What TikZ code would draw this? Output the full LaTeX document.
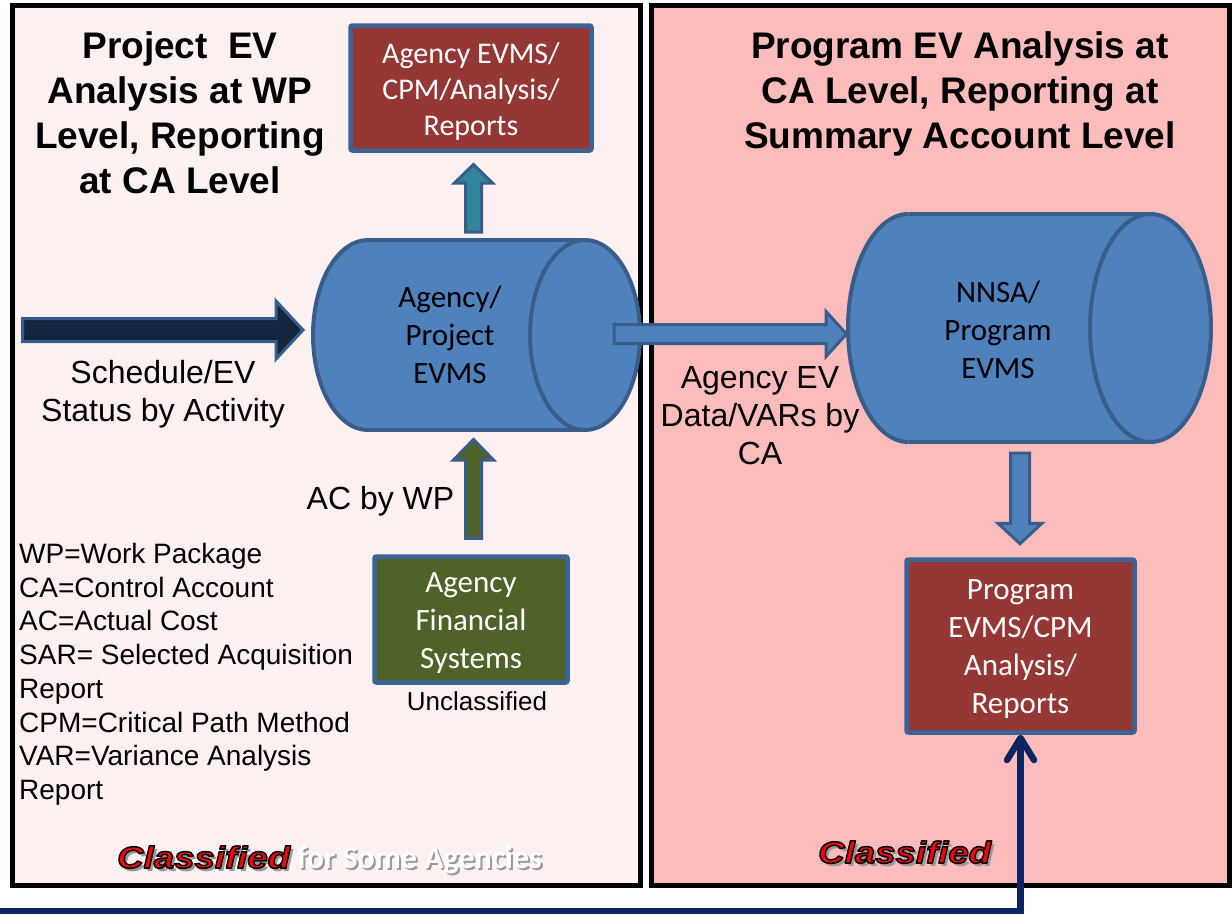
\documentclass[tikz,border=0pt]{standalone}
\usepackage{fontspec}
\setmainfont{Liberation Sans}
\newfontfamily\calfont{Carlito}
\newfontfamily\clsfont[FakeStretch=1.2]{Liberation Sans}
\usetikzlibrary{calc,arrows.meta}

\definecolor{panelL}{HTML}{FDF0F0}
\definecolor{panelR}{HTML}{FDBCBC}
\definecolor{cylfill}{HTML}{4F81BD}
\definecolor{cylline}{HTML}{385D8A}
\definecolor{boxline}{HTML}{3B6395}
\definecolor{redbox}{HTML}{953735}
\definecolor{greenbox}{HTML}{4F6228}
\definecolor{tealarr}{HTML}{31849B}
\definecolor{navyarr}{HTML}{13253F}
\definecolor{navyline}{HTML}{0D2463}
\definecolor{clsred}{HTML}{FF0000}

\tikzset{
  panel/.style={draw=black, line width=5pt},
  infobox/.style={draw=boxline, line width=4.5pt, rounded corners=2pt, inner sep=0pt},
  boxtxt/.style={text=white, font=\calfont\fontsize{31}{38}\selectfont, align=center, inner sep=0pt},
  cylstroke/.style={draw=cylline, line width=4pt},
  cyltext/.style={font=\calfont\fontsize{31}{38}\selectfont, align=center, inner sep=0pt, text=black},
  blk/.style={draw=cylline, line width=3pt, line join=miter},
  lbl/.style={font=\fontsize{32}{38}\selectfont, align=center, inner sep=0pt},
  ttl/.style={font=\bfseries\fontsize{37}{45}\selectfont, align=center, inner sep=0pt, anchor=north},
  legendtxt/.style={font=\fontsize{28}{33.7}\selectfont, align=left, inner sep=0pt, anchor=north west},
  clsbase/.style={font=\clsfont\bfseries\itshape\fontsize{30.5}{30.5}\selectfont, inner sep=0pt, anchor=base west},
  somebase/.style={font=\calfont\bfseries\fontsize{32}{32}\selectfont, inner sep=0pt, anchor=base west},
  navyln/.style={draw=navyline, line width=6.5pt, line cap=butt,
    -{Straight Barb[length=22pt, width=27pt, round]}},
}

% outlined text (fill red, stroke black) via PDF text render mode 2
\newcommand{\outlined}[1]{{\color{clsred}\special{pdf:literal direct 0 0 0 RG 1.5 w 1 j 2 Tr}#1\special{pdf:literal direct 0 Tr}}}

% horizontal block arrow: style, from, to, shaft half, head half, head length
\newcommand{\harr}[6]{\path[#1] let \p1=(#2), \p2=(#3) in
  (\x1,\y1+#4) -- (\x2-#6,\y1+#4) -- (\x2-#6,\y1+#5) -- (\x2,\y1) --
  (\x2-#6,\y1-#5) -- (\x2-#6,\y1-#4) -- (\x1,\y1-#4) -- cycle;}
% upward block arrow
\newcommand{\uarr}[6]{\path[#1] let \p1=(#2), \p2=(#3) in
  (\x1-#4,\y1) -- (\x1-#4,\y2-#6) -- (\x1-#5,\y2-#6) -- (\x1,\y2) --
  (\x1+#5,\y2-#6) -- (\x1+#4,\y2-#6) -- (\x1+#4,\y1) -- cycle;}
% downward block arrow
\newcommand{\darr}[6]{\path[#1] let \p1=(#2), \p2=(#3) in
  (\x1-#4,\y1) -- (\x1-#4,\y2+#6) -- (\x1-#5,\y2+#6) -- (\x1,\y2) --
  (\x1+#5,\y2+#6) -- (\x1+#4,\y2+#6) -- (\x1+#4,\y1) -- cycle;}
% horizontal cylinder: xl, xr, cy, rx, ry
\newcommand{\drawcyl}[5]{%
  \fill[cylfill] (#1,#3) ellipse[x radius=#4, y radius=#5];
  \fill[cylfill] (#2,#3) ellipse[x radius=#4, y radius=#5];
  \fill[cylfill] (#1,#3-#5) rectangle (#2,#3+#5);
  \begin{scope}
    \clip (#1-#4-6,#3-#5-6) rectangle (#1,#3+#5+6);
    \draw[cylstroke] (#1,#3) ellipse[x radius=#4, y radius=#5];
  \end{scope}
  \draw[cylstroke] (#1,#3-#5) -- (#2,#3-#5);
  \draw[cylstroke] (#1,#3+#5) -- (#2,#3+#5);
  \draw[cylstroke] (#2,#3) ellipse[x radius=#4, y radius=#5];
}

\begin{document}
\begin{tikzpicture}[x=1pt,y=-1pt]
\useasboundingbox (0,0) rectangle (1232,914);
\fill[white] (0,0) rectangle (1232,914);

% panels
\path[panel, fill=panelL] (12.5,5.5) rectangle (640.5,885);
\path[panel, fill=panelR] (651.5,5.5) rectangle (1229,885);

% titles
\node[ttl] (ttlL) at (180,31) {Project\ \ EV\\Analysis at WP\\Level, Reporting\\at CA Level};
\node[ttl] (ttlR) at (960,31) {Program EV Analysis at\\CA Level, Reporting at\\Summary Account Level};

% boxes
\node[infobox, fill=redbox, minimum width=241pt, minimum height=125pt] (topbox) at (471,88) {};
\node[boxtxt, font=\calfont\fontsize{30}{36}\selectfont] (topTxt) at ($(topbox.center)+(0,3)$) {Agency EVMS/\\CPM/Analysis/\\Reports};
\node[infobox, fill=greenbox, minimum width=193pt, minimum height=126pt] (finbox) at (471,619.5) {};
\node[boxtxt] (finTxt) at ($(finbox.center)+(0,4)$) {Agency\\Financial\\Systems};
\node[infobox, fill=redbox, minimum width=228pt, minimum height=173pt] (progbox) at (1020.5,646) {};
\node[boxtxt] (progTxt) at ($(progbox.center)+(0,3)$) {Program\\EVMS/CPM\\Analysis/\\Reports};

% cylinders
\drawcyl{368}{585}{335}{55}{95}
\node[cyltext] (cylA) at (450,335) {Agency/\\Project\\EVMS};
\drawcyl{908.5}{1150.5}{328}{60.5}{114}
\node[cyltext] (cylB) at (998,330) {NNSA/\\Program\\EVMS};

% arrow end coordinates
\coordinate (schedTail) at (22.5,330);
\coordinate (schedTip) at (303,330);
\coordinate (evTail) at (614,334);
\coordinate (evTip) at (846.5,334);
\coordinate (tealTail) at (473.5,232);
\coordinate (greenTip) at (473.5,439.5);
\coordinate (downTail) at (1020,453);
\coordinate (navyStart) at (0,911);

% block arrows
\harr{blk, fill=navyarr}{schedTail}{schedTip}{11.5pt}{29pt}{27pt}
\harr{blk, fill=cylfill}{evTail}{evTip}{9.5pt}{22.5pt}{20.5pt}
\uarr{blk, fill=tealarr}{tealTail}{$(topbox.south)+(2.5,11.75)$}{8pt}{19pt}{18.5pt}
\uarr{blk, fill=greenbox}{$(finbox.north)+(2.5,-16)$}{greenTip}{8pt}{20pt}{20.5pt}
\darr{blk, fill=cylfill}{downTail}{$(progbox.north)+(-0.5,-13.5)$}{9.5pt}{22pt}{20.5pt}

% navy connector
\draw[navyln] (navyStart) -| (progbox.south);

% labels
\node[lbl, anchor=north] (schedLbl) at (163,360.5) {Schedule/EV\\Status by Activity};
\node[lbl, anchor=base] (acLbl) at (380.5,509.5) {AC by WP};
\node[lbl, anchor=north] (evLbl) at (760,366.5) {Agency EV\\Data/VARs by\\CA};
\node[inner sep=0pt, anchor=base, font=\fontsize{26}{26}\selectfont] (unclLbl) at (477,710) {Unclassified};

% legend
\node[legendtxt] (legend) at (19,543) {WP=Work Package\\CA=Control Account\\AC=Actual Cost\\SAR= Selected Acquisition\\Report\\CPM=Critical Path Method\\VAR=Variance Analysis\\Report};

% classification marks
\node[clsbase, text=black!40] (clsLsh) at (120,871) {Classified};
\node[clsbase] (clsL) at (117,868) {\outlined{Classified}};
\node[clsbase, text=black!40] (clsRsh) at (821,866) {Classified};
\node[clsbase] (clsR) at (818,863) {\outlined{Classified}};
\node[somebase, text=black!40] (someSh) at (299,870) {for Some Agencies};
\node[somebase, text=white] (someTxt) at (297,868) {for Some Agencies};
\end{tikzpicture}
\end{document}
